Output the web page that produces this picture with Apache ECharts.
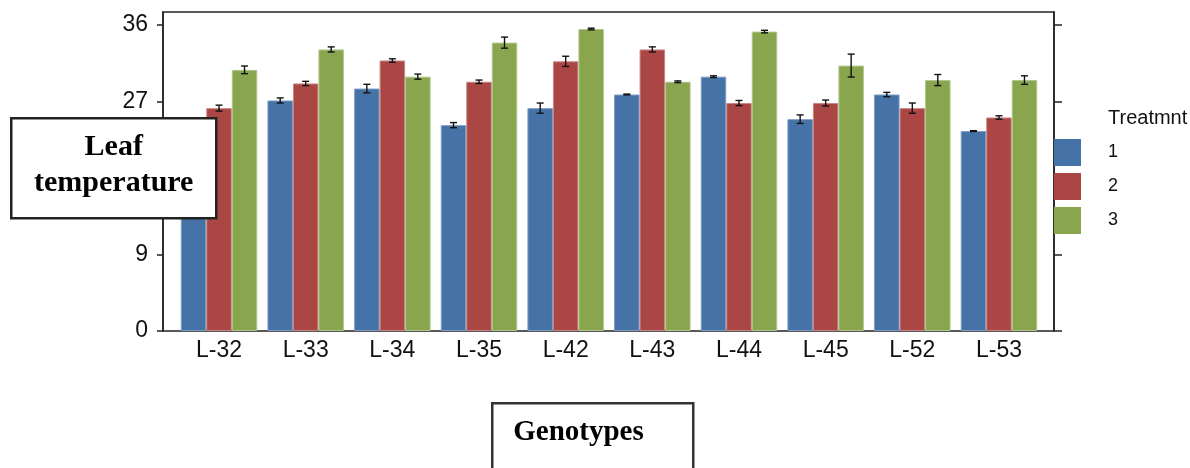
<!DOCTYPE html>
<html>
<head>
<meta charset="utf-8">
<script src="https://cdn.jsdelivr.net/npm/echarts@6/dist/echarts.min.js"></script>
<style>
  html, body { margin: 0; padding: 0; background: #fff; }
  #chart { width: 1190px; height: 468px; }
</style>
</head>
<body>
<div id="chart"></div>
<script>
// Genotypes on the x axis
const categories = ['L-32', 'L-33', 'L-34', 'L-35', 'L-42', 'L-43', 'L-44', 'L-45', 'L-52', 'L-53'];
// Mean leaf temperature per treatment
const treatment1 = [24.0, 27.1, 28.5, 24.2, 26.2, 27.8, 29.9, 24.9, 27.8, 23.5];
const treatment2 = [26.2, 29.1, 31.8, 29.3, 31.7, 33.1, 26.8, 26.8, 26.2, 25.1];
const treatment3 = [30.7, 33.1, 29.9, 33.9, 35.5, 29.3, 35.2, 31.2, 29.5, 29.5];
// Standard errors
const error1 = [0.3, 0.3, 0.5, 0.3, 0.6, 0.05, 0.1, 0.5, 0.25, 0.05];
const error2 = [0.35, 0.25, 0.2, 0.2, 0.6, 0.3, 0.3, 0.35, 0.6, 0.2];
const error3 = [0.45, 0.3, 0.3, 0.65, 0.1, 0.1, 0.15, 1.35, 0.65, 0.5];
// Axis ticks
const yTicks = [0, 9, 18, 27, 36];
const treatmentNames = ['1', '2', '3'];

const colors = ['#4572A7', '#AA4643', '#89A54E'];
const borders = ['#7d9cc6', '#c98583', '#b1c78c'];
const BAR_W = 25.5;
const SANS = '"Liberation Sans", Arial, sans-serif';
const SERIF = '"Liberation Serif", "Times New Roman", serif';

const means = [treatment1, treatment2, treatment3];
const errors = [error1, error2, error3];

const errData = [];
means.forEach((arr, s) => {
  arr.forEach((v, i) => errData.push([i, v, errors[s][i], s]));
});

const chart = echarts.init(document.getElementById('chart'), null, { renderer: 'canvas' });

const barSeries = means.map((arr, s) => ({
  name: treatmentNames[s],
  type: 'bar',
  xAxisIndex: 0,
  yAxisIndex: 0,
  data: arr,
  barWidth: BAR_W,
  barGap: '0%',
  itemStyle: { color: colors[s], borderColor: borders[s], borderWidth: 1 },
  emphasis: { disabled: true },
  z: 2
}));

const errorSeries = {
  type: 'custom',
  xAxisIndex: 0,
  yAxisIndex: 0,
  data: errData,
  encode: { x: 0, y: 1 },
  silent: true,
  z: 5,
  renderItem: function (params, api) {
    const i = api.value(0);
    const v = api.value(1);
    const e = api.value(2);
    const s = api.value(3);
    const cx = api.coord([i, v])[0] + (s - 1) * BAR_W;
    const yHi = api.coord([i, v + e])[1];
    const yLo = api.coord([i, v - e])[1];
    const cap = 3.5;
    const st = { stroke: '#111', lineWidth: 1.4 };
    return {
      type: 'group',
      children: [
        { type: 'line', shape: { x1: cx, y1: yHi, x2: cx, y2: yLo }, style: st },
        { type: 'line', shape: { x1: cx - cap, y1: yHi, x2: cx + cap, y2: yHi }, style: st },
        { type: 'line', shape: { x1: cx - cap, y1: yLo, x2: cx + cap, y2: yLo }, style: st }
      ]
    };
  }
};

const option = {
  animation: false,
  backgroundColor: '#fff',
  grid: [
    // bars
    { left: 175.7, right: 1190 - 1042.3, top: 12, bottom: 137 },
    // frame and value axes
    { left: 163, right: 136, top: 12, bottom: 137, show: true, borderColor: '#222', borderWidth: 1.5, backgroundColor: 'transparent' }
  ],
  xAxis: [
    {
      type: 'category',
      gridIndex: 0,
      data: categories,
      axisLine: { show: false },
      axisTick: { show: false },
      axisLabel: { color: '#111', fontFamily: SANS, fontSize: 23, margin: 8 }
    },
    { type: 'value', gridIndex: 1, show: false, min: 0, max: 1 }
  ],
  yAxis: [
    { type: 'value', gridIndex: 0, min: 0, max: 37.5, show: false },
    {
      type: 'value', gridIndex: 1, position: 'left', min: 0, max: 37.5, interval: 9,
      axisLine: { show: true, lineStyle: { color: '#222', width: 1.5 } },
      axisTick: { show: true, length: 6, customValues: yTicks, lineStyle: { color: '#222', width: 1.5 } },
      axisLabel: { customValues: yTicks, color: '#111', fontFamily: SANS, fontSize: 23, margin: 15 },
      splitLine: { show: false }
    },
    {
      type: 'value', gridIndex: 1, position: 'right', min: 0, max: 37.5, interval: 9,
      axisLine: { show: true, lineStyle: { color: '#222', width: 1.5 } },
      axisTick: { show: true, length: 8, customValues: yTicks, lineStyle: { color: '#222', width: 1.5 } },
      axisLabel: { show: false },
      splitLine: { show: false }
    }
  ],
  legend: {
    data: treatmentNames,
    orient: 'vertical',
    left: 1054,
    top: 139,
    padding: 0,
    itemWidth: 27,
    itemHeight: 27,
    itemGap: 7,
    icon: 'rect',
    selectedMode: false,
    itemStyle: { borderWidth: 0 },
    textStyle: { color: '#111', fontFamily: SANS, fontSize: 18, padding: [0, 0, 0, 22] },
    z: 10
  },
  graphic: [
    {
      type: 'text', left: 1108, top: 108, z: 20,
      style: { text: 'Treatmnt', font: '20px ' + SANS, fill: '#111' }
    },
    {
      type: 'group', left: 10, top: 117, z: 100, zlevel: 1,
      children: [
        { type: 'rect', z: 100, zlevel: 1, shape: { x: 0, y: 0, width: 205, height: 100 }, style: { fill: '#fff', stroke: '#222', lineWidth: 2.5 } },
        { type: 'text', z: 101, zlevel: 1, style: { x: 102.5, y: 14, text: 'Leaf', font: 'bold 30px ' + SERIF, fill: '#000', textAlign: 'center', textVerticalAlign: 'top' } },
        { type: 'text', z: 101, zlevel: 1, style: { x: 102.5, y: 50, text: 'temperature', font: 'bold 30px ' + SERIF, fill: '#000', textAlign: 'center', textVerticalAlign: 'top' } }
      ]
    },
    {
      type: 'group', left: 491, top: 402, z: 100, zlevel: 1,
      children: [
        { type: 'rect', z: 100, zlevel: 1, shape: { x: 0, y: 0, width: 201, height: 80 }, style: { fill: '#fff', stroke: '#333', lineWidth: 2.5 } },
        { type: 'text', z: 101, zlevel: 1, style: { x: 21, y: 15, text: 'Genotypes', font: 'bold 29px ' + SERIF, fill: '#000', textAlign: 'left', textVerticalAlign: 'top' } }
      ]
    }
  ],
  series: barSeries.concat([errorSeries])
};

chart.setOption(option);
</script>
</body>
</html>
